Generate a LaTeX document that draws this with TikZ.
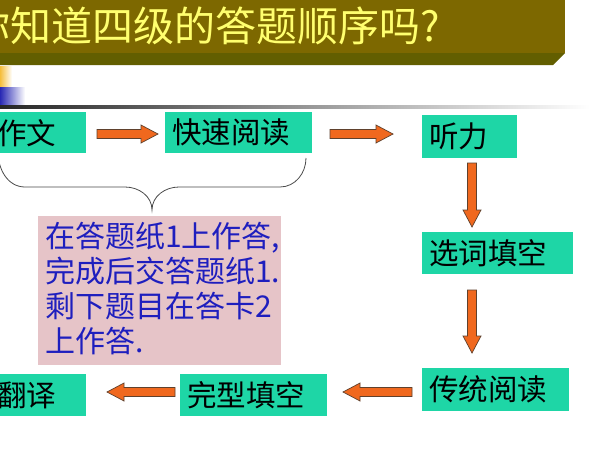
\documentclass[tikz,border=0pt]{standalone}
\usepackage{fontspec}
\newfontfamily\cjk{Noto Sans CJK SC}
\usetikzlibrary{calc}
\definecolor{olivebar}{RGB}{125,104,0}
\definecolor{olivebevel}{RGB}{98,94,0}
\definecolor{titleyellow}{RGB}{255,255,110}
\definecolor{boxteal}{RGB}{30,214,166}
\definecolor{arroworange}{RGB}{240,104,30}
\definecolor{arrowline}{RGB}{95,65,45}
\definecolor{notepink}{RGB}{230,196,200}
\definecolor{noteblue}{RGB}{30,30,190}
\definecolor{decoyellow}{RGB}{245,190,60}
\definecolor{decoblue}{RGB}{40,40,180}
\tikzset{
  box/.style={fill=boxteal, anchor=north west, inner xsep=7pt, inner ysep=0pt,
    align=left, font=\cjk\fontsize{29.5}{31}\selectfont, text=black},
  barrowstyle/.style={fill=arroworange, draw=arrowline, line width=0.7pt, line join=miter},
  bracestyle/.style={draw=black!70, line width=0.8pt},
}
\newcommand{\blockarrow}[2]{%
  \draw[barrowstyle] let \p1=(#1), \p2=(#2),
    \n1={atan2(\y2-\y1,\x2-\x1)}, \n2={veclen(\x2-\x1,\y2-\y1)} in
    [shift={(\x1,\y1)}, rotate=\n1]
    (0pt,-4.5pt) -- ({\n2*1pt-17pt},-4.5pt) -- ({\n2*1pt-17pt},-9pt) -- ({\n2*1pt},0pt)
    -- ({\n2*1pt-17pt},9pt) -- ({\n2*1pt-17pt},4.5pt) -- (0pt,4.5pt) -- cycle;}
\begin{document}
\begin{tikzpicture}[x=1pt,y=-1pt]
\useasboundingbox (0,0) rectangle (603,453);
\fill[white] (0,0) rectangle (603,453);
% title bar
\fill[olivebar] (0,0) rectangle (565,53);
\fill[olivebevel] (0,53) -- (565,53) -- (553,65) -- (0,65) -- cycle;
\node[anchor=west, inner sep=0pt, text=titleyellow, font=\cjk\fontsize{41}{41}\selectfont] (title) at (-31,26) {你知道四级的答题顺序吗?};
% decorations
\shade[left color=decoyellow, right color=white] (0,66) rectangle (12,86);
\shade[left color=decoblue, right color=white] (0,87) rectangle (25,105);
\shade[left color=black!85, middle color=black!45, right color=white] (0,105.5) rectangle (590,108);
% boxes
\node[box, minimum width=96pt, minimum height=41pt, text width=82pt] (zw) at (-10,112) {作文};
\node[box, minimum width=147pt, minimum height=41pt, text width=133pt] (ks) at (165,112) {快速阅读};
\node[box, minimum width=95pt, minimum height=43pt, text width=81pt] (tl) at (422,115) {听力};
\node[box, minimum width=151pt, minimum height=42pt, text width=137pt] (xc) at (422,232) {选词填空};
\node[box, minimum width=147pt, minimum height=43pt, text width=133pt] (ct) at (422,368) {传统阅读};
\node[box, minimum width=147pt, minimum height=42pt, text width=133pt] (wx) at (180,374) {完型填空};
\node[box, minimum width=96pt, minimum height=42pt, text width=82pt] (fy) at (-10,374) {翻译};
% arrow end points
\coordinate (a1s) at (97,134);  \coordinate (a1e) at (158,134);
\coordinate (a2s) at (330,134); \coordinate (a2e) at (393,134);
\coordinate (a3s) at (472,163); \coordinate (a3e) at (472,227);
\coordinate (a4s) at (472,290); \coordinate (a4e) at (472,353);
\coordinate (a5s) at (412,392); \coordinate (a5e) at (343,392);
\coordinate (a6s) at (175,392); \coordinate (a6e) at (107,392);
\blockarrow{a1s}{a1e}
\blockarrow{a2s}{a2e}
\blockarrow{a3s}{a3e}
\blockarrow{a4s}{a4e}
\blockarrow{a5s}{a5e}
\blockarrow{a6s}{a6e}
% brace
\draw[bracestyle] (-2,152) to[out=-90,in=180] (25,187) -- (125,187)
  to[out=0,in=90] (152,210) to[out=90,in=180] (179,187) -- (280,187)
  to[out=0,in=-90] (306,158);
% note
\fill[notepink] (38,216) rectangle (281,365);
\node[anchor=north west, inner sep=0pt, align=left, text=noteblue,
  font=\cjk\fontsize{30}{35}\selectfont] (note) at (45,222)
  {在答题纸1上作答,\\完成后交答题纸1.\\剩下题目在答卡2\\上作答.};
\end{tikzpicture}
\end{document}
